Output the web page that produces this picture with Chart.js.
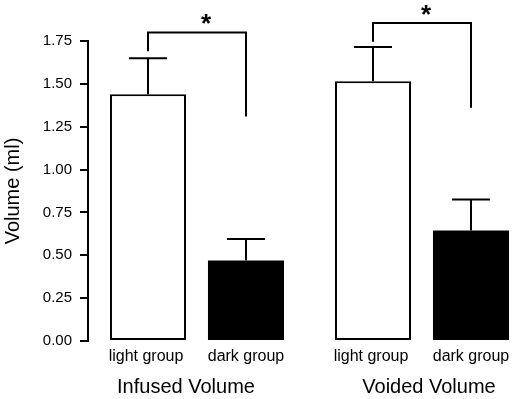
<!DOCTYPE html>
<html>
<head>
<meta charset="utf-8">
<script src="https://cdn.jsdelivr.net/npm/chart.js@4"></script>
<style>
html, body { margin: 0; padding: 0; background: #fff; }
#wrap { width: 517px; height: 399px; }
</style>
</head>
<body>
<div id="wrap"><canvas id="chart"></canvas></div>
<script>
// groups and series
var groups = ['Infused Volume', 'Voided Volume'];
var seriesNames = ['light group', 'dark group'];
var lightMeans = [1.44, 1.515];
var lightErrors = [0.21, 0.20];
var darkMeans = [0.47, 0.645];
var darkErrors = [0.125, 0.18];
var yTicks = [0, 0.25, 0.5, 0.75, 1.0, 1.25, 1.5, 1.75];

// significance brackets (value levels)
var bracketTop = [1.80, 1.855];
var bracketLeftEnd = [1.69, 1.745];
var bracketRightEnd = [1.31, 1.36];
var bracketMark = ['*', '*'];

var FONT = '"Liberation Sans", Arial, sans-serif';
var titleShift = [-11, 7];
var markShift = [9, 4];

function toPoints(values) {
    "use strict";
    return values.map(function (v, i) { return {x: i, y: v}; });
}

var annotate = {
    id: 'annotate',
    afterDatasetsDraw: function (chart) {
        "use strict";
        var ctx = chart.ctx;
        var yScale = chart.scales.y;
        var means = [lightMeans, darkMeans];
        var errs = [lightErrors, darkErrors];
        var area = chart.chartArea;
        var d, i, bars, bx, y0, y1;

        ctx.save();
        ctx.strokeStyle = '#000';
        ctx.lineWidth = 2;
        ctx.lineCap = 'butt';

        // error bars
        for (d = 0; d < 2; d++) {
            bars = chart.getDatasetMeta(d).data;
            for (i = 0; i < bars.length; i++) {
                bx = Math.round(bars[i].x);
                y0 = yScale.getPixelForValue(means[d][i]);
                y1 = yScale.getPixelForValue(means[d][i] + errs[d][i]);
                ctx.beginPath();
                ctx.moveTo(bx, y0);
                ctx.lineTo(bx, y1);
                ctx.moveTo(bx - 19, y1);
                ctx.lineTo(bx + 19, y1);
                ctx.stroke();
            }
        }

        // brackets
        var lightBars = chart.getDatasetMeta(0).data;
        var darkBars = chart.getDatasetMeta(1).data;
        ctx.fillStyle = '#000';
        for (i = 0; i < groups.length; i++) {
            var xl = Math.round(lightBars[i].x);
            var xr = Math.round(darkBars[i].x);
            var yt = yScale.getPixelForValue(bracketTop[i]);
            ctx.beginPath();
            ctx.moveTo(xl, yScale.getPixelForValue(bracketLeftEnd[i]));
            ctx.lineTo(xl, yt);
            ctx.lineTo(xr, yt);
            ctx.lineTo(xr, yScale.getPixelForValue(bracketRightEnd[i]));
            ctx.stroke();
            ctx.font = 'bold 26px ' + FONT;
            ctx.textAlign = 'center';
            ctx.textBaseline = 'alphabetic';
            ctx.fillText(bracketMark[i], (xl + xr) / 2 + markShift[i], yt);
        }

        // category labels
        ctx.textBaseline = 'middle';
        ctx.textAlign = 'center';
        ctx.font = '16px ' + FONT;
        for (i = 0; i < groups.length; i++) {
            ctx.fillText(seriesNames[0], lightBars[i].x - 2, area.bottom + 16);
            ctx.fillText(seriesNames[1], darkBars[i].x, area.bottom + 16);
        }
        ctx.font = '20px ' + FONT;
        for (i = 0; i < groups.length; i++) {
            var gx = (lightBars[i].x + darkBars[i].x) / 2 + titleShift[i];
            ctx.fillText(groups[i], gx, area.bottom + 46);
        }
        ctx.restore();
    }
};

var ctx = document.getElementById('chart').getContext('2d');
var chart = new Chart(ctx, {
    type: 'bar',
    data: {
        datasets: [{
            label: seriesNames[0],
            data: toPoints(lightMeans),
            backgroundColor: '#fff',
            borderColor: '#000',
            borderWidth: 2,
            borderSkipped: false
        }, {
            label: seriesNames[1],
            data: toPoints(darkMeans),
            backgroundColor: '#000',
            borderColor: '#000',
            borderWidth: 0,
            borderSkipped: false
        }]
    },
    options: {
        responsive: true,
        maintainAspectRatio: false,
        animation: false,
        categoryPercentage: 0.871,
        barPercentage: 0.776,
        layout: {padding: {top: 41, left: 0, right: 5, bottom: 58}},
        plugins: {legend: {display: false}, tooltip: {enabled: false}},
        scales: {
            x: {
                type: 'linear',
                min: -0.4844,
                max: 1.4,
                offset: false,
                display: false,
                grid: {display: false},
                afterBuildTicks: function (scale) {
                    scale.ticks = groups.map(function (g, i) { return {value: i}; });
                }
            },
            y: {
                min: 0,
                max: 1.75,
                afterBuildTicks: function (scale) {
                    scale.ticks = yTicks.map(function (v) { return {value: v}; });
                },
                afterFit: function (scale) {
                    scale.width = 88;
                },
                ticks: {
                    color: '#000',
                    padding: 8,
                    font: {family: FONT, size: 15},
                    callback: function (v) { return Number(v).toFixed(2); }
                },
                grid: {
                    drawOnChartArea: false,
                    drawTicks: true,
                    tickLength: 8,
                    color: '#000',
                    lineWidth: 2
                },
                border: {display: true, color: '#000', width: 2},
                title: {
                    display: true,
                    text: 'Volume (ml)',
                    color: '#000',
                    font: {family: FONT, size: 20},
                    padding: {top: 1, bottom: 0}
                }
            }
        }
    },
    plugins: [annotate]
});
</script>
</body>
</html>
